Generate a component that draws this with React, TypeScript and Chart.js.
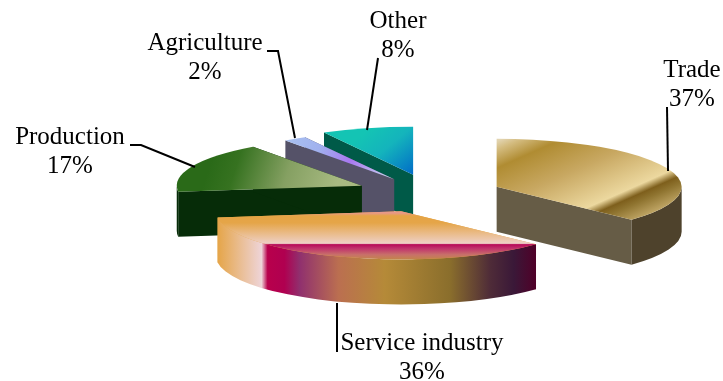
import React, { useEffect, useRef } from "react";
import Chart from "chart.js/auto";

// Share of each sector, in percent.
const categories = ["Trade", "Service industry", "Production", "Agriculture", "Other"];
const shares = [37, 36, 17, 2, 8];
// How far each slice is pulled out of the pie.
const explode = [65, 116, 82, 80, 96];

const WIDTH = 723;
const HEIGHT = 381;
const RADIUS = 185;
const TILT = 0.26; // vertical squash of the slice faces
const EXPLODE_TILT = 0.18; // vertical squash of the pull-out direction
const DEPTH = 45; // height of the slice walls

type Stop = [number, string];
type Vec = [number, number, number, number];

const faceStyles: { vec: Vec; stops: Stop[] }[] = [
  {
    vec: [497, 141, 550, 260],
    stops: [
      [0, "#e2d4b0"], [0.06, "#d4bc80"], [0.19, "#b08c32"], [0.45, "#c8a862"], [0.75, "#ecd89f"],
      [0.815, "#7e5f1c"], [0.87, "#8f7430"], [1, "#c4aa6a"],
    ],
  },
  {
    vec: [0, 213, 0, 262],
    stops: [
      [0, "#e89888"], [0.06, "#e5a445"], [0.2, "#e5a548"], [0.62, "#eed0c6"], [0.645, "#b70a58"],
      [0.72, "#c0306c"], [0.85, "#c8706a"], [1, "#c09038"],
    ],
  },
  {
    vec: [215, 150, 335, 190],
    stops: [[0, "#2a6a18"], [0.2, "#367220"], [0.6, "#85a062"], [1, "#a8ba82"]],
  },
  {
    vec: [290, 136, 390, 178],
    stops: [[0, "#a8c0f0"], [0.3, "#a0b0ee"], [0.6, "#a878f0"], [1, "#c8d8f0"]],
  },
  {
    vec: [370, 128, 412, 178],
    stops: [[0, "#14c4b4"], [0.4, "#14b4bc"], [1, "#0068c8"]],
  },
];

// Wall colours: flat cut faces and the curved rim.
const cutWallColours = ["#665c46", "#e5a548", "#062c08", "#555268", "#005a48"];
const rimStyles: Stop[][] = [
  [[0, "#4e422c"], [1, "#4e422c"]],
  [
    [0, "#e5a548"], [0.138, "#eed4d8"], [0.157, "#b8004c"], [0.21, "#b00050"], [0.258, "#90306e"],
    [0.38, "#bb6f50"], [0.525, "#b58a38"], [0.73, "#8a6e2c"], [0.855, "#4f2c38"], [0.93, "#3a1838"], [1, "#500028"],
  ],
  [[0, "#062c08"], [1, "#062c08"]],
  [[0, "#555268"], [1, "#555268"]],
  [[0, "#005a48"], [1, "#005a48"]],
];

// Where each caption sits and the elbow of its leader line.
const captions: { x: number; y: number; leader: [number, number][] }[] = [
  { x: 692, y: 70, leader: [[667, 107], [668, 171]] },
  { x: 422, y: 343, leader: [[337, 303], [337, 352]] },
  { x: 70, y: 137, leader: [[130, 145], [141, 145], [195, 167]] },
  { x: 205, y: 43, leader: [[267, 51], [278, 51], [295, 138]] },
  { x: 398, y: 21, leader: [[378, 58], [367, 130]] },
];

function makeGradient(ctx: CanvasRenderingContext2D, v: Vec, stops: Stop[]) {
  const g = ctx.createLinearGradient(v[0], v[1], v[2], v[3]);
  stops.forEach(([p, c]) => g.addColorStop(p, c));
  return g;
}

const tiltedPie = {
  id: "tiltedPie",
  // Replaces the flat arcs with extruded, squashed slices built from the arc geometry.
  beforeDatasetDraw(chart: any) {
    const ctx: CanvasRenderingContext2D = chart.ctx;
    const arcs = chart.getDatasetMeta(0).data;
    const ry = RADIUS * TILT;
    for (let i = arcs.length - 1; i >= 0; i--) {
      const arc = arcs[i];
      const r = arc.outerRadius;
      const mid = (arc.startAngle + arc.endAngle) / 2;
      const off = arc.options.offset;
      const cx = arc.x + Math.cos(mid) * off;
      const cy = arc.y + Math.sin(mid) * off * EXPLODE_TILT;
      const a0 = arc.startAngle;
      const a1 = arc.endAngle;
      const rim = (a: number): [number, number] => [cx + Math.cos(a) * r, cy + Math.sin(a) * ry];

      // Flat cut walls
      ctx.fillStyle = cutWallColours[i];
      [a0, a1].forEach((a) => {
        const [x, y] = rim(a);
        ctx.beginPath();
        ctx.moveTo(cx, cy);
        ctx.lineTo(x, y);
        ctx.lineTo(x, y + DEPTH);
        ctx.lineTo(cx, cy + DEPTH);
        ctx.closePath();
        ctx.fill();
      });

      // Curved rim, only on the half facing the viewer
      const from = Math.max(a0, 0);
      const to = Math.min(a1, Math.PI);
      if (to > from) {
        const rimLeft = cx + Math.cos(to) * r;
        const rimRight = cx + Math.cos(from) * r;
        ctx.fillStyle = makeGradient(ctx, [rimLeft, 0, rimRight, 0], rimStyles[i]);
        ctx.beginPath();
        ctx.ellipse(cx, cy, r, ry, 0, from, to);
        ctx.ellipse(cx, cy + DEPTH, r, ry, 0, to, from, true);
        ctx.closePath();
        ctx.fill();
      }

      // Top face
      ctx.fillStyle = makeGradient(ctx, faceStyles[i].vec, faceStyles[i].stops);
      ctx.beginPath();
      ctx.moveTo(cx, cy);
      ctx.ellipse(cx, cy, r, ry, 0, a0, a1);
      ctx.closePath();
      ctx.fill();
    }
    return false;
  },
  afterDatasetsDraw(chart: any) {
    const ctx: CanvasRenderingContext2D = chart.ctx;
    ctx.save();
    ctx.strokeStyle = "#000";
    ctx.lineWidth = 2;
    ctx.fillStyle = "#000";
    ctx.font = '25px "Liberation Serif"';
    ctx.textAlign = "center";
    ctx.textBaseline = "middle";
    captions.forEach((c, i) => {
      ctx.beginPath();
      c.leader.forEach(([x, y], k) => (k ? ctx.lineTo(x, y) : ctx.moveTo(x, y)));
      ctx.stroke();
      ctx.fillText(categories[i], c.x, c.y);
      ctx.fillText(`${shares[i]}%`, c.x, c.y + 29);
    });
    ctx.restore();
  },
};

export default function App() {
  const ref = useRef<HTMLCanvasElement>(null);
  useEffect(() => {
    const chart = new Chart(ref.current!, {
      type: "pie",
      data: {
        labels: categories,
        datasets: [{ data: shares, offset: explode, radius: RADIUS, borderWidth: 0 }],
      },
      options: {
        animation: false,
        responsive: false,
        events: [],
        layout: { padding: { left: 151, top: 2 } },
        plugins: { legend: { display: false }, tooltip: { enabled: false } },
      },
      plugins: [tiltedPie],
    } as any);
    return () => chart.destroy();
  }, []);
  return (
    <div style={{ position: "absolute", left: 0, top: 0, background: "#fff" }}>
      <canvas ref={ref} width={WIDTH} height={HEIGHT} style={{ display: "block" }} />
    </div>
  );
}
